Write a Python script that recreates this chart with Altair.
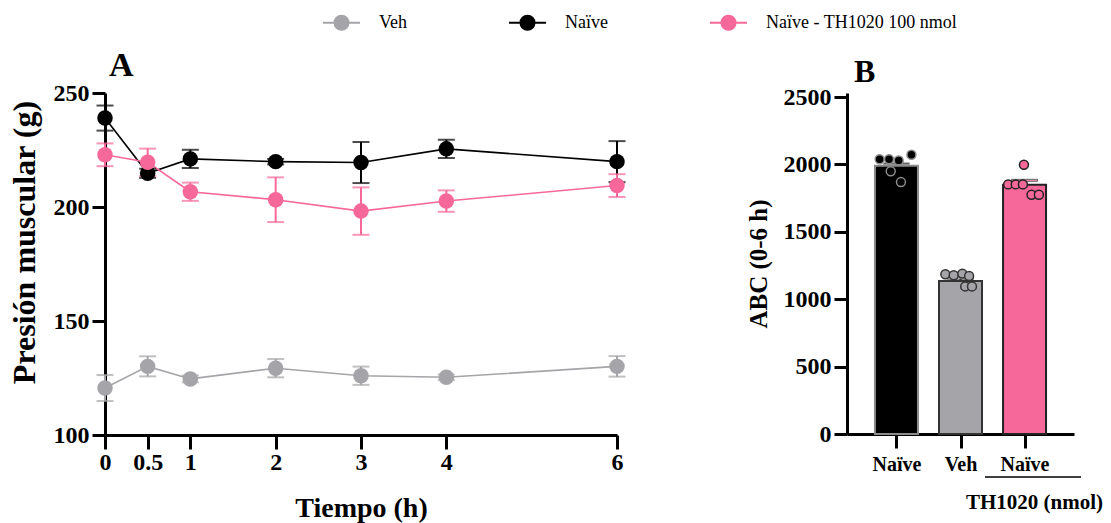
import altair as alt
import pandas as pd

FONT = "Liberation Serif"

# ---------------- Panel A data ----------------
times = [0, 0.5, 1, 2, 3, 4, 6]
series_names = ["Veh", "Naïve", "Naïve - TH1020 100 nmol"]
veh_mean = [120.6, 130.1, 124.6, 129.3, 126.0, 125.3, 130.1]
veh_sem = [5.7, 4.4, 1.5, 4.0, 4.0, 1.2, 4.5]
naive_mean = [239.0, 214.8, 221.1, 219.9, 219.5, 225.5, 219.9]
naive_sem = [5.5, 2.0, 4.0, 1.2, 9.0, 4.0, 9.0]
th_mean = [222.9, 219.6, 206.7, 203.2, 198.2, 202.6, 209.4]
th_sem = [5.0, 6.0, 4.0, 9.8, 10.4, 4.7, 5.0]
series_colors = ["#A5A5A9", "#000000", "#F7689A"]

# ---------------- Panel B data ----------------
bar_groups = ["Naïve", "Veh", "Naïve TH1020"]
bar_labels = ["Naïve", "Veh", "Naïve"]
bar_means = [1990, 1135, 1850]
bar_sems = [15, 20, 32]
bar_fill = ["#000000", "#A5A5A9", "#F7689A"]
bar_stroke = ["#8C8C8C", "#333333", "#222222"]

naive_pts = [2038, 2038, 2030, 2072, 1949, 1869]
veh_pts = [1185, 1178, 1190, 1172, 1095, 1095]
th_pts = [1998, 1852, 1852, 1852, 1775, 1775]
naive_slots = [-0.82, -0.36, 0.11, 0.73, -0.28, 0.22]
veh_slots = [-0.74, -0.33, 0.09, 0.42, 0.23, 0.56]
th_slots = [-0.03, -0.80, -0.43, -0.08, 0.34, 0.70]

# ---------------- tables ----------------
rows = []
for name, means, sems in zip(series_names, [veh_mean, naive_mean, th_mean],
                             [veh_sem, naive_sem, th_sem]):
    for t, m, s in zip(times, means, sems):
        rows.append({"series": name, "t": t, "mean": m, "sem": s})
df_a = pd.DataFrame(rows)

df_b = pd.DataFrame({"group": bar_groups, "idx": list(range(len(bar_groups))),
                     "mean": bar_means, "sem": bar_sems})
prow = []
for i, (g, vals, slots) in enumerate(zip(bar_groups, [naive_pts, veh_pts, th_pts],
                                         [naive_slots, veh_slots, th_slots])):
    for v, sl in zip(vals, slots):
        prow.append({"group": g, "idx": i, "value": v, "slot": sl})
df_p = pd.DataFrame(prow)

# ---------------- Panel A ----------------
color_scale = alt.Scale(domain=series_names, range=series_colors)
xa_axis = alt.Axis(values=times, format="~g", title="Tiempo (h)", grid=False,
                   labelFont=FONT, labelFontSize=24, labelFontWeight="bold",
                   labelColor="black", labelPadding=1, labelFlush=False,
                   tickSize=14, tickWidth=3, tickColor="black",
                   domainWidth=3, domainColor="black",
                   titleFont=FONT, titleFontSize=28, titleFontWeight="bold",
                   titleColor="black", titlePadding=20)
ya_axis = alt.Axis(values=[100, 150, 200, 250], title="Presión muscular (g)",
                   grid=False, labelFont=FONT, labelFontSize=24,
                   labelFontWeight="bold", labelColor="black", labelPadding=3,
                   tickSize=13, tickWidth=3, tickColor="black",
                   domainWidth=3, domainColor="black",
                   titleFont=FONT, titleFontSize=32, titleFontWeight="bold",
                   titleColor="black", titleAngle=270, titleX=-81, titleY=149,
                   titleAlign="center", titleBaseline="middle")
xa = alt.X("t:Q", scale=alt.Scale(domain=[0, 6], nice=False), axis=xa_axis)
ya_scale = alt.Scale(domain=[100, 250], nice=False, zero=False)

legend_symbol = ("M-1,0L1,0M0.38,0A0.38,0.38,0,1,1,-0.38,0"
                 "A0.38,0.38,0,1,1,0.38,0Z")
nbsp = "\u00a0" * 10
legend = alt.Legend(orient="none", direction="horizontal", columns=3,
                    legendX=217, legendY=-90, title=None,
                    symbolType=legend_symbol, symbolSize=1369,
                    symbolStrokeWidth=2, symbolOpacity=1,
                    labelFont=FONT, labelFontSize=18, labelLimit=400,
                    labelExpr="datum.label == 'Veh' ? 'Veh" + nbsp + "' : datum.label",
                    labelColor="black", labelOffset=18, columnPadding=98)
col = alt.Color("series:N", scale=color_scale, legend=legend)

base_a = alt.Chart(df_a).transform_calculate(
    lo="datum.mean - datum.sem", hi="datum.mean + datum.sem")

lines_a = base_a.mark_line(strokeWidth=1.6).encode(
    x=xa, y=alt.Y("mean:Q", scale=ya_scale, axis=ya_axis), color=col)
rules_a = base_a.mark_rule(strokeWidth=2).encode(
    x=xa, y=alt.Y("lo:Q", scale=ya_scale, axis=ya_axis), y2="hi:Q", color=col)
caps_lo = base_a.mark_tick(orient="horizontal", size=17, thickness=2).encode(
    x=xa, y=alt.Y("lo:Q", scale=ya_scale, axis=ya_axis), color=col)
caps_hi = base_a.mark_tick(orient="horizontal", size=17, thickness=2).encode(
    x=xa, y=alt.Y("hi:Q", scale=ya_scale, axis=ya_axis), color=col)
points_a = base_a.mark_point(filled=True, size=240, opacity=1).encode(
    x=xa, y=alt.Y("mean:Q", scale=ya_scale, axis=ya_axis), color=col)

chart_a = alt.layer(lines_a, rules_a, caps_lo, caps_hi, points_a).properties(
    width=512, height=342,
    title=alt.TitleParams("A", anchor="start", frame="group", font=FONT,
                          fontSize=34, fontWeight="bold", color="black",
                          dx=4, offset=-80))

# ---------------- Panel B ----------------
fill_scale = alt.Scale(domain=bar_groups, range=bar_fill)
stroke_scale = alt.Scale(domain=bar_groups, range=bar_stroke)
label_expr = ("[" + ",".join("'%s'" % s for s in bar_labels) + "][datum.value]")
xb_axis = alt.Axis(title="TH1020 (nmol)", values=[0, 1, 2], labelAngle=0,
                   labelExpr=label_expr, grid=False,
                   labelFont=FONT, labelFontSize=20, labelFontWeight="bold",
                   labelColor="black", labelPadding=6,
                   tickSize=14, tickWidth=3, tickColor="black",
                   domainWidth=3, domainColor="black",
                   titleFont=FONT, titleFontSize=21, titleFontWeight="bold",
                   titleColor="black", titleX=187, titleY=68,
                   titleAlign="center", titleBaseline="middle")
yb_axis = alt.Axis(values=[0, 500, 1000, 1500, 2000, 2500], format="d",
                   title="ABC (0-6 h)", grid=False, labelFont=FONT,
                   labelFontSize=24, labelFontWeight="bold", labelColor="black",
                   labelPadding=3, tickSize=13, tickWidth=3, tickColor="black",
                   domainWidth=3, domainColor="black",
                   titleFont=FONT, titleFontSize=25, titleFontWeight="bold",
                   titleColor="black", titlePadding=12)
xb_scale = alt.Scale(domain=[-0.694, 2.694], nice=False, zero=False)
xb = alt.X("idx:Q", scale=xb_scale, axis=xb_axis)
yb_scale = alt.Scale(domain=[0, 2530], nice=False)

base_b = alt.Chart(df_b).transform_calculate(hi="datum.mean + datum.sem")
bars = base_b.mark_bar(strokeWidth=2, width=43).encode(
    x=xb, y=alt.Y("mean:Q", scale=yb_scale, axis=yb_axis),
    fill=alt.Fill("group:N", scale=fill_scale, legend=None),
    stroke=alt.Stroke("group:N", scale=stroke_scale, legend=None))
err_b = base_b.mark_rule(strokeWidth=2).encode(
    x=xb, y=alt.Y("mean:Q", scale=yb_scale, axis=yb_axis), y2="hi:Q",
    stroke=alt.Stroke("group:N", scale=stroke_scale, legend=None))
cap_b = base_b.mark_tick(orient="horizontal", size=26, thickness=2).encode(
    x=xb, y=alt.Y("hi:Q", scale=yb_scale, axis=yb_axis),
    stroke=alt.Stroke("group:N", scale=stroke_scale, legend=None),
    fill=alt.Fill("group:N", scale=stroke_scale, legend=None))
# category index + jitter (fraction of half a bar)
pts_b = alt.Chart(df_p).transform_calculate(
    xpos="datum.idx + datum.slot * 0.32").mark_point(
    filled=True, size=80, opacity=1, strokeWidth=1.5).encode(
    x=alt.X("xpos:Q", scale=xb_scale, axis=xb_axis),
    y=alt.Y("value:Q", scale=yb_scale, axis=yb_axis),
    fill=alt.Fill("group:N", scale=fill_scale, legend=None),
    stroke=alt.Stroke("group:N", scale=stroke_scale, legend=None))
underline = alt.Chart(pd.DataFrame({"k": [0]})).mark_rule(
    strokeWidth=1.5, color="black").encode(
    x=alt.value(138), x2=alt.value(234), y=alt.value(384))

chart_b = alt.layer(bars, err_b, cap_b, pts_b, underline).properties(
    width=227, height=341,
    title=alt.TitleParams("B", anchor="start", frame="group", font=FONT,
                          fontSize=32, fontWeight="bold", color="black",
                          dx=7, offset=-4))

chart = alt.hconcat(chart_a, chart_b, spacing=230, bounds="flush").resolve_scale(
    color="independent", stroke="independent", fill="independent"
).resolve_legend(
    color="independent", stroke="independent", fill="independent"
).configure_view(stroke=None).properties(
    padding={"left": 8, "top": 3, "right": 5, "bottom": 5},
    background="white")

chart.save("out.html", embed_options={"renderer": "svg", "actions": False})
